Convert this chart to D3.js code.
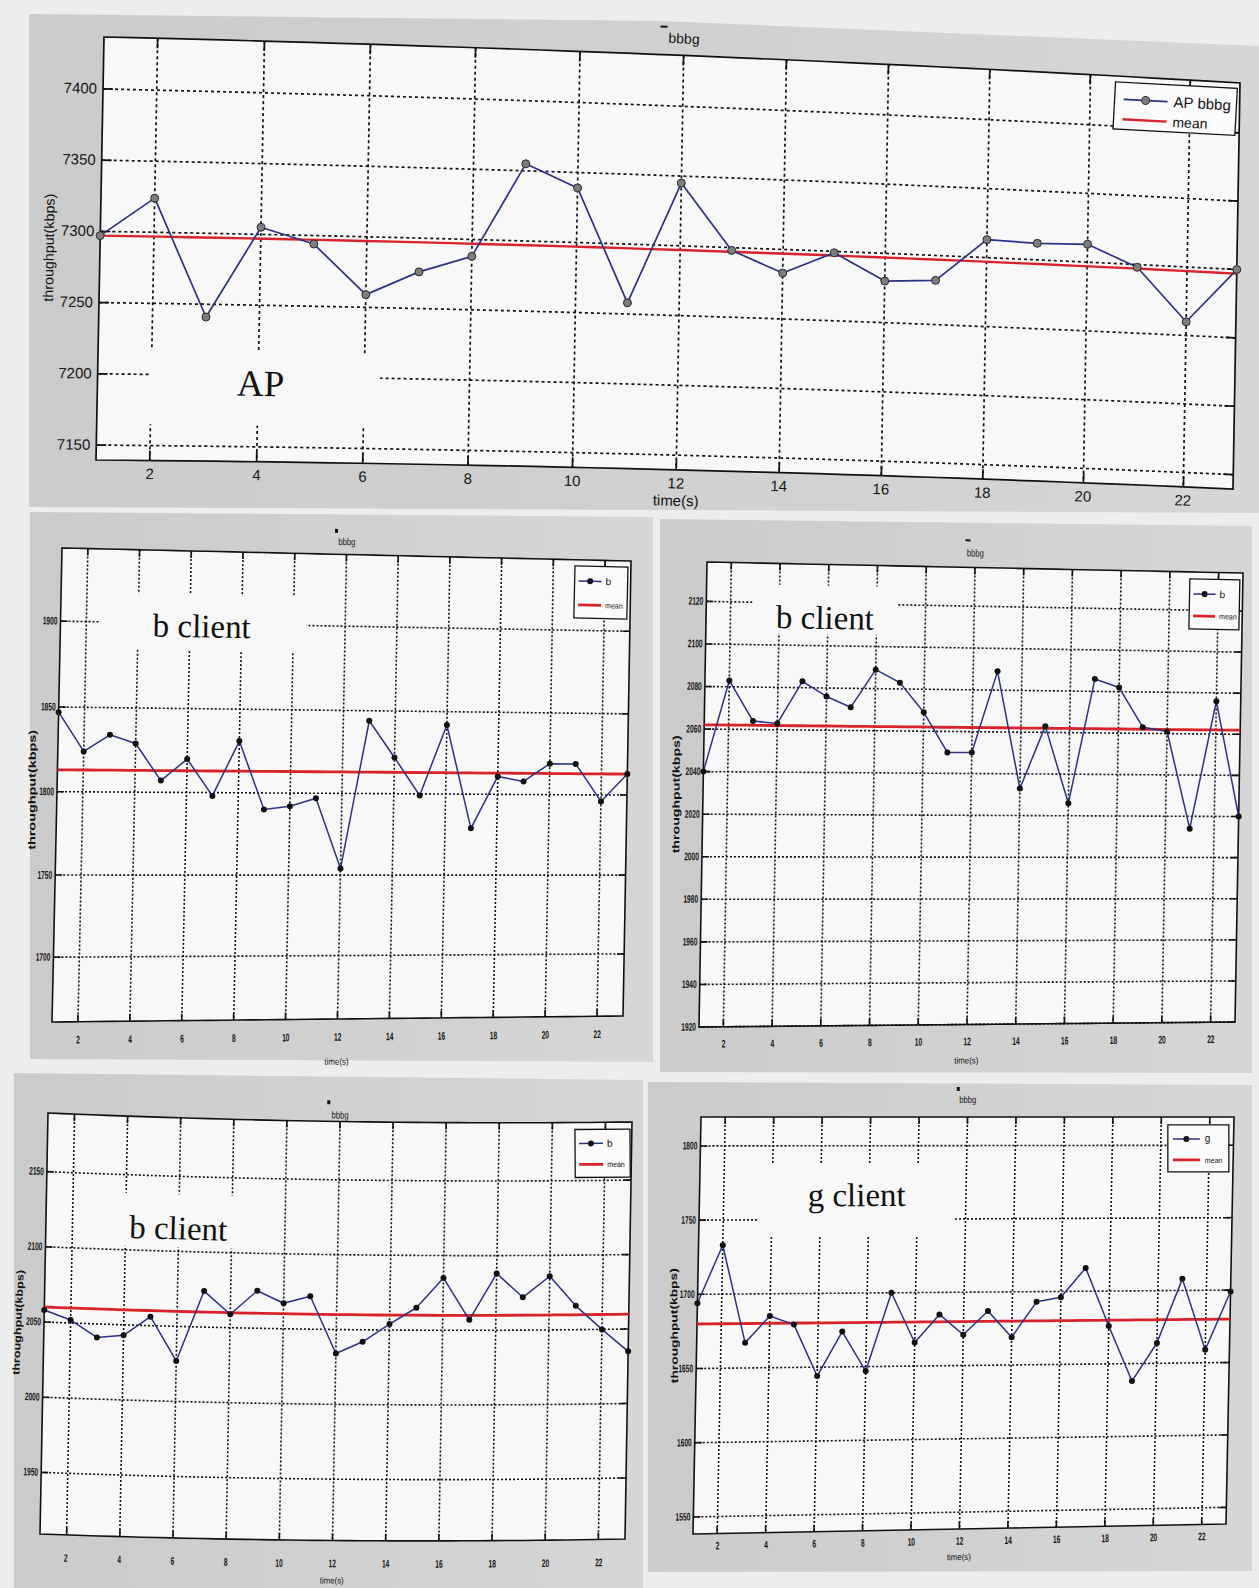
<!DOCTYPE html>
<html>
<head>
<meta charset="utf-8">
<script src="https://cdn.jsdelivr.net/npm/d3@7"></script>
<style>
  body { margin: 0; background: #ededed; }
  #page { position: relative; width: 1259px; height: 1588px; overflow: hidden; background: #ededed; }
  svg { display: block; }
</style>
</head>
<body>
<div id="page"><svg id="sheet" width="1259" height="1588"></svg></div>
<script>
// ---- data: throughput per second for the bbbg combination ----
const seconds = [1, 2, 3, 4, 5, 6, 7, 8, 9, 10, 11, 12, 13, 14, 15, 16, 17, 18, 19, 20, 21, 22, 23];
const timeTicks = [2, 4, 6, 8, 10, 12, 14, 16, 18, 20, 22];

const apThroughput = [7297, 7324, 7241, 7305, 7294, 7259, 7276, 7288, 7355, 7339, 7258, 7345,
                      7298, 7283, 7299, 7280, 7282, 7313, 7312, 7313, 7298, 7260, 7300];
const apMean = 7297;
const apTicks = [7150, 7200, 7250, 7300, 7350, 7400];

const bThroughputA = [1847, 1824, 1834, 1829, 1807, 1820, 1798, 1831, 1790, 1792, 1797, 1754,
                      1844, 1822, 1799, 1842, 1779, 1811, 1808, 1819, 1819, 1796, 1813];
const bMeanA = 1813;
const bTicksA = [1700, 1750, 1800, 1850, 1900];

const bThroughputB = [2040, 2083, 2064, 2063, 2083, 2076, 2071, 2089, 2083, 2069, 2050, 2050,
                      2089, 2033, 2063, 2026, 2086, 2082, 2063, 2061, 2014, 2076, 2020];
const bMeanB = 2062;
const bTicksB = [1920, 1940, 1960, 1980, 2000, 2020, 2040, 2060, 2080, 2100, 2120];

const bThroughputC = [2058, 2052, 2041, 2043, 2056, 2027, 2074, 2059, 2075, 2067, 2072, 2034,
                      2042, 2054, 2065, 2085, 2057, 2088, 2072, 2086, 2066, 2050, 2035];
const bMeanC = 2060;
const bTicksC = [1950, 2000, 2050, 2100, 2150];

const gThroughput = [1694, 1733, 1667, 1685, 1679, 1644, 1674, 1647, 1700, 1666, 1685, 1671,
                     1687, 1669, 1693, 1696, 1716, 1676, 1638, 1664, 1708, 1659, 1699];
const gMean = 1680;
const gTicks = [1550, 1600, 1650, 1700, 1750, 1800];

// ---- styles ----
const BLUE = '#2b3183', RED = '#d8232a', INK = '#111';
const NARROW = "'Liberation Sans Narrow','Arial Narrow','Liberation Sans',Arial,sans-serif";
const SANS = "'Liberation Sans',Arial,sans-serif";
const SERIF = "'Liberation Serif','Times New Roman',serif";

const bigStyle = {
  font: SANS, tick: 10, tickFont: 15, tickBold: false, charW: null, yPad: 6,
  grid: '3,3', gridW: 1.7, boxW: 1.7, lineW: 1.7, meanW: 2.4,
  marker: 'circle', markerR: 4,
  titleFont: 14, titleW: null, labelFont: 15, labelW: null,
  yLabelFont: 14, yLabelBold: false, legendFont: 15, meanFont: 14
};
const smallStyle = {
  font: NARROW, tick: 7, tickFont: 11, tickBold: true, charW: 3.7, yPad: 3,
  grid: '2,2', gridW: 1.6, boxW: 1.6, lineW: 1.5, meanW: 2.8,
  marker: 'dot', markerR: 3,
  titleFont: 10, titleW: 17, labelFont: 9, labelW: 24,
  yLabelFont: 10, yLabelBold: true, legendFont: 10, meanFont: 8
};

// ---- layout of the five panels on the sheet ----
const panels = [
  [[29, 14], [660, 21], [1259, 46], [1259, 513], [29, 507]],
  [[30, 512], [653, 517], [653, 1062], [30, 1059]],
  [[660, 519], [1252, 526], [1252, 1073], [660, 1072]],
  [[14, 1073], [643, 1080], [643, 1588], [14, 1588]],
  [[648, 1082], [1252, 1085], [1252, 1571], [648, 1572]]
];

// quad = plot-box corners on the sheet (TL, TR, BR, BL);
// bulge / sag bend the middle of the curved page, projective keeps true perspective spacing
const charts = [
  { values: apThroughput, mean: apMean, yTicks: apTicks, yDomain: [7139.5, 7436.5],
    quad: [[104, 37], [1240, 83], [1233, 489], [96, 460]], projective: true, bulge: 5, sag: 0,
    style: bigStyle, series: 'AP bbbg',
    note: { text: 'AP', x0: 1.97, x1: 6.3, y0: 7165, y1: 7217, tx: 4.05, ty: 7186, size: 37 },
    legend: { w: 122, h: 47, right: 7, top: 6, lx0: 9, lx1: 53, tx: 59, r1: 17, r2: 37 },
    titleDy: -12, xLabelDy: 36, yLabelDx: -49, mark: { dx: -24, dy: -17, w: 7, h: 2 }, xPad: 8, yLabelLen: 108 },
  { values: bThroughputA, mean: bMeanA, yTicks: bTicksA, yDomain: [1660, 1942],
    quad: [[62, 548], [631, 561], [623, 1016], [52, 1022]], projective: false, bulge: 0, sag: 5,
    style: smallStyle, series: 'b',
    note: { text: 'b client', x0: 2.54, x1: 10.5, y0: 1884.5, y1: 1916.7, tx: 6.46, ty: 1892, size: 33 },
    legend: { w: 53, h: 52, right: 3, top: 6, lx0: 4, lx1: 27, tx: 31, r1: 15, r2: 39 },
    titleDy: -9, xLabelDy: 48, yLabelDx: -25, mark: { dx: -12, dy: -16, w: 3, h: 4 }, xPad: 14, yLabelLen: 120 },
  { values: bThroughputB, mean: bMeanB, yTicks: bTicksB, yDomain: [1920, 2138.5],
    quad: [[707, 562], [1243, 573], [1235, 1022], [699, 1027]], projective: false, bulge: 0, sag: 0,
    style: smallStyle, series: 'b',
    note: { text: 'b client', x0: 2.9, x1: 8.87, y0: 2105.4, y1: 2128.5, tx: 5.88, ty: 2108, size: 33 },
    legend: { w: 50, h: 50, right: 3, top: 7, lx0: 4, lx1: 26, tx: 30, r1: 15, r2: 37 },
    titleDy: -11, xLabelDy: 39, yLabelDx: -27, mark: { dx: -10, dy: -17, w: 5, h: 2 }, xPad: 13, yLabelLen: 118 },
  { values: bThroughputC, mean: bMeanC, yTicks: bTicksC, yDomain: [1909, 2189],
    quad: [[48, 1113], [632, 1122], [625, 1539], [40, 1534]], projective: false, bulge: -4, sag: 0,
    style: smallStyle, series: 'b',
    note: { text: 'b client', x0: 2.43, x1: 9.38, y0: 2102.7, y1: 2138, tx: 5.98, ty: 2108, size: 33 },
    legend: { w: 55, h: 48, right: 2, top: 7, lx0: 4, lx1: 28, tx: 32, r1: 14, r2: 35 },
    titleDy: -3, xLabelDy: 43, yLabelDx: -26, mark: { dx: -13, dy: -18, w: 3, h: 4 }, xPad: 19, yLabelLen: 105 },
  { values: gThroughput, mean: gMean, yTicks: gTicks, yDomain: [1538.5, 1819.5],
    quad: [[701, 1117], [1234, 1117], [1226, 1524], [693, 1534]], projective: false, bulge: 0, sag: 0,
    style: smallStyle, series: 'g',
    note: { text: 'g client', x0: 3.44, x1: 11.5, y0: 1738.7, y1: 1787, tx: 7.5, ty: 1759, size: 33 },
    legend: { w: 61, h: 47, right: 5, top: 8, lx0: 5, lx1: 32, tx: 37, r1: 14, r2: 35 },
    titleDy: -14, xLabelDy: 31, yLabelDx: -23, mark: { dx: -11, dy: -16, w: 3, h: 4 }, xPad: 8, yLabelLen: 115 }
];

const sheet = d3.select('#sheet');

// ---- background panels ----
const grad = sheet.append('defs').append('linearGradient').attr('id', 'panelShade')
  .attr('x1', '0').attr('x2', '1').attr('y1', '0').attr('y2', '0');
grad.append('stop').attr('offset', '0').attr('stop-color', '#cbcbcb');
grad.append('stop').attr('offset', '1').attr('stop-color', '#d6d6d6');
sheet.append('g').selectAll('polygon').data(panels).join('polygon')
  .attr('points', d => d.map(p => p.join(',')).join(' '))
  .attr('fill', 'url(#panelShade)');

// map from plot pixels onto the photographed sheet
function makeWarp(cfg, pw, ph) {
  const q = cfg.quad;
  let base;
  if (cfg.projective) {
    const [x0, y0] = q[0], [x1, y1] = q[1], [x2, y2] = q[2], [x3, y3] = q[3];
    const dx1 = x1 - x2, dx2 = x3 - x2, dx3 = x0 - x1 + x2 - x3;
    const dy1 = y1 - y2, dy2 = y3 - y2, dy3 = y0 - y1 + y2 - y3;
    const den = dx1 * dy2 - dx2 * dy1;
    const gg = (dx3 * dy2 - dx2 * dy3) / den, hh = (dx1 * dy3 - dx3 * dy1) / den;
    const a = x1 - x0 + gg * x1, b = x3 - x0 + hh * x3, c = x0;
    const d = y1 - y0 + gg * y1, e = y3 - y0 + hh * y3, f = y0;
    base = (u, v) => {
      const w = gg * u + hh * v + 1;
      return [(a * u + b * v + c) / w, (d * u + e * v + f) / w];
    };
  } else {
    base = (u, v) => [
      (1 - u) * (1 - v) * q[0][0] + u * (1 - v) * q[1][0] + u * v * q[2][0] + (1 - u) * v * q[3][0],
      (1 - u) * (1 - v) * q[0][1] + u * (1 - v) * q[1][1] + u * v * q[2][1] + (1 - u) * v * q[3][1]
    ];
  }
  const fn = (px, py) => {
    const u = px / pw, v = py / ph;
    const p = base(u, v);
    return [p[0], p[1] - cfg.bulge * 4 * u * (1 - u) + cfg.sag * 4 * v * (1 - v)];
  };
  fn.angle = (px, py) => {
    const p0 = fn(px - 1, py), p1 = fn(px + 1, py);
    return Math.atan2(p1[1] - p0[1], p1[0] - p0[0]) * 180 / Math.PI;
  };
  fn.place = (px, py) => {
    const p = fn(px, py);
    return `translate(${p[0].toFixed(2)},${p[1].toFixed(2)}) rotate(${fn.angle(px, py).toFixed(3)})`;
  };
  return fn;
}

function narrow(sel, w, n) {
  if (w) sel.attr('textLength', w * n).attr('lengthAdjust', 'spacingAndGlyphs');
}

function drawChart(cfg) {
  const q = cfg.quad, st = cfg.style;
  const pw = ((q[1][0] - q[0][0]) + (q[2][0] - q[3][0])) / 2;
  const ph = ((q[3][1] - q[0][1]) + (q[2][1] - q[1][1])) / 2;
  const warp = makeWarp(cfg, pw, ph);
  const g = sheet.append('g');

  const x = d3.scaleLinear().domain([1, 23]).range([0, pw]);
  const y = d3.scaleLinear().domain(cfg.yDomain).range([ph, 0]);

  const steps = d3.range(0, 41).map(i => i / 40);
  const hPts = (py, a, b) => steps.map(t => warp(a + (b - a) * t, py));
  const vPts = (px, a, b) => steps.map(t => warp(px, a + (b - a) * t));
  const hline = (py, a = 0, b = pw) => d3.line()(hPts(py, a, b));
  const area = (a, b, top, bot) => d3.line()(
    hPts(top, a, b).concat(vPts(b, top, bot), hPts(bot, b, a), vPts(a, bot, top))) + 'Z';

  // plot background
  g.append('path').attr('d', area(0, pw, 0, ph)).attr('fill', '#f8f8f8');

  // dotted grid
  const grid = g.append('g').attr('stroke', INK).attr('stroke-width', st.gridW)
    .attr('stroke-dasharray', st.grid).attr('fill', 'none');
  grid.selectAll('.gx').data(timeTicks).join('path').attr('class', 'gx')
    .attr('d', d => d3.line()(vPts(x(d), 0, ph)));
  grid.selectAll('.gy').data(cfg.yTicks).join('path').attr('class', 'gy')
    .attr('d', d => hline(y(d)));

  // text annotation on a white box
  const n = cfg.note;
  g.append('path').attr('d', area(x(n.x0), x(n.x1), y(n.y1), y(n.y0))).attr('fill', '#f8f8f8');
  g.append('text').attr('transform', warp.place(x(n.tx), y(n.ty))).attr('text-anchor', 'middle')
    .attr('font-family', SERIF).attr('font-size', n.size).attr('fill', '#111').text(n.text);

  // axes with inward ticks on all four sides
  const tl = st.tick;
  const axB = g.append('g').call(d3.axisBottom(x).tickValues(timeTicks).tickSize(-tl).tickPadding(cfg.xPad));
  axB.selectAll('.tick').attr('transform', d => warp.place(x(d), ph));
  const axT = g.append('g').call(d3.axisTop(x).tickValues(timeTicks).tickSize(-tl).tickFormat(''));
  axT.selectAll('.tick').attr('transform', d => warp.place(x(d), 0));
  const axL = g.append('g')
    .call(d3.axisLeft(y).tickValues(cfg.yTicks).tickSize(-tl).tickPadding(st.yPad).tickFormat(d3.format('d')));
  axL.selectAll('.tick').attr('transform', d => warp.place(0, y(d)));
  const axR = g.append('g').call(d3.axisRight(y).tickValues(cfg.yTicks).tickSize(-tl).tickFormat(''));
  axR.selectAll('.tick').attr('transform', d => warp.place(pw, y(d)));
  [axB, axT, axL, axR].forEach(a => {
    a.select('.domain').remove();
    a.selectAll('line').attr('stroke', INK).attr('stroke-width', st.boxW);
    a.attr('font-family', st.font).attr('font-size', st.tickFont)
      .attr('font-weight', st.tickBold ? 'bold' : 'normal');
    a.selectAll('text').attr('fill', '#161616');
  });
  [axB, axL].forEach(a => a.selectAll('text').each(function (d) {
    narrow(d3.select(this), st.charW, String(d).length);
  }));

  // box
  g.append('path').attr('d', area(0, pw, 0, ph)).attr('fill', 'none')
    .attr('stroke', INK).attr('stroke-width', st.boxW);

  // mean line
  g.append('path').attr('d', hline(y(cfg.mean), x(1), x(23))).attr('fill', 'none')
    .attr('stroke', RED).attr('stroke-width', st.meanW);

  // throughput series
  const pts = seconds.map((s, i) => warp(x(s), y(cfg.values[i])));
  g.append('path').attr('d', d3.line()(pts))
    .attr('fill', 'none').attr('stroke', BLUE).attr('stroke-width', st.lineW).attr('stroke-linejoin', 'round');
  const drawMarker = (sel) => {
    if (st.marker === 'circle') sel.attr('r', st.markerR).attr('fill', '#7d7d7d').attr('stroke', '#2a2a2a').attr('stroke-width', 1);
    else sel.attr('r', st.markerR).attr('fill', '#111');
  };
  g.append('g').selectAll('circle').data(pts).join('circle')
    .attr('cx', d => d[0]).attr('cy', d => d[1]).call(drawMarker);

  // legend
  const L = cfg.legend;
  const lg = g.append('g').attr('transform', warp.place(pw - L.right - L.w, L.top));
  lg.append('rect').attr('width', L.w).attr('height', L.h).attr('fill', '#fbfbfb')
    .attr('stroke', INK).attr('stroke-width', 1.3);
  lg.append('line').attr('x1', L.lx0).attr('x2', L.lx1).attr('y1', L.r1).attr('y2', L.r1)
    .attr('stroke', BLUE).attr('stroke-width', st.lineW);
  lg.append('circle').attr('cx', (L.lx0 + L.lx1) / 2).attr('cy', L.r1).call(drawMarker);
  lg.append('text').attr('x', L.tx).attr('y', L.r1).attr('dy', '0.35em')
    .attr('font-family', st.font).attr('font-size', st.legendFont).attr('fill', '#111').text(cfg.series);
  lg.append('line').attr('x1', L.lx0).attr('x2', L.lx1).attr('y1', L.r2).attr('y2', L.r2)
    .attr('stroke', RED).attr('stroke-width', st.meanW);
  const tm = lg.append('text').attr('x', L.tx).attr('y', L.r2).attr('dy', '0.35em')
    .attr('font-family', st.font).attr('font-size', st.meanFont).attr('fill', '#111').text('mean');
  if (st.charW) narrow(tm, 4.4, 4);

  // title with its small figure mark, axis labels
  const tg = g.append('g').attr('transform', warp.place(pw / 2, cfg.titleDy));
  const title = tg.append('text').attr('text-anchor', 'middle')
    .attr('font-family', st.font).attr('font-size', st.titleFont).attr('fill', '#111').text('bbbg');
  if (st.titleW) narrow(title, st.titleW / 4, 4);
  tg.append('rect').attr('x', cfg.mark.dx).attr('y', cfg.mark.dy)
    .attr('width', cfg.mark.w).attr('height', cfg.mark.h).attr('fill', '#111');

  const xl = g.append('text').attr('transform', warp.place(pw / 2, ph + cfg.xLabelDy)).attr('text-anchor', 'middle')
    .attr('font-family', st.font).attr('font-size', st.labelFont).attr('fill', '#111').text('time(s)');
  if (st.labelW) narrow(xl, st.labelW / 7, 7);

  g.append('text').attr('transform', `${warp.place(cfg.yLabelDx, ph / 2)} rotate(-90)`)
    .attr('text-anchor', 'middle').attr('dy', '0.35em')
    .attr('font-family', SANS).attr('font-size', st.yLabelFont)
    .attr('font-weight', st.yLabelBold ? 'bold' : 'normal').attr('fill', '#111')
    .attr('textLength', cfg.yLabelLen).attr('lengthAdjust', 'spacingAndGlyphs')
    .text('throughput(kbps)');
}

charts.forEach(drawChart);
</script>
</body>
</html>
